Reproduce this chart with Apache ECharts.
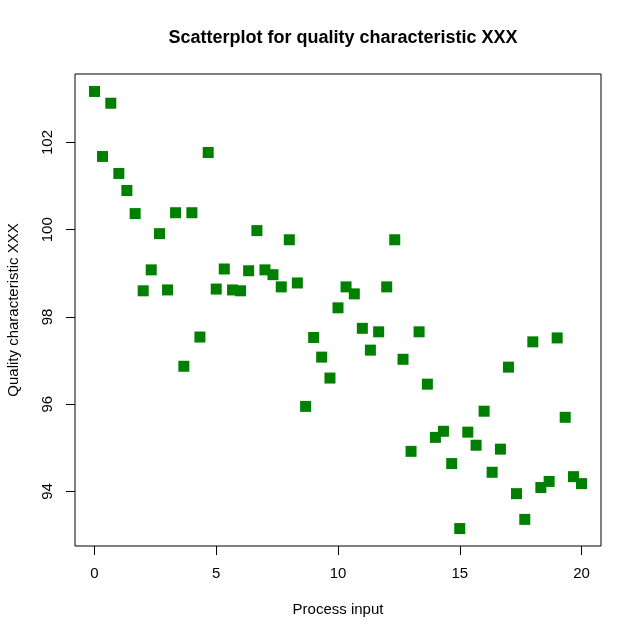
<!DOCTYPE html>
<html>
<head>
<meta charset="utf-8">
<script src="https://cdn.jsdelivr.net/npm/echarts@6/dist/echarts.min.js"></script>
<style>
	html, body { margin: 0; padding: 0; background: #fff; }
	#chart { width: 640px; height: 639px; }
</style>
</head>
<body>
<div id="chart"></div>
<script>
var processInput = [0, 0.33, 0.67, 1, 1.33, 1.67, 2, 2.33, 2.67, 3, 3.33, 3.67, 4, 4.33, 4.67,
	5, 5.33, 5.67, 6, 6.33, 6.67, 7, 7.33, 7.67, 8, 8.33, 8.67, 9, 9.33, 9.67,
	10, 10.33, 10.67, 11, 11.33, 11.67, 12, 12.33, 12.67, 13, 13.33, 13.67, 14, 14.33, 14.67,
	15, 15.33, 15.67, 16, 16.33, 16.67, 17, 17.33, 17.67, 18, 18.33, 18.67, 19, 19.33, 19.67, 20];
var quality = [103.17, 101.68, 102.90, 101.29, 100.90, 100.37, 98.60, 99.08, 99.91, 98.62, 100.39, 96.87, 100.39, 97.54, 101.77,
	98.64, 99.10, 98.62, 98.60, 99.06, 99.98, 99.08, 98.97, 98.69, 99.77, 98.78, 95.95, 97.53, 97.08, 96.60,
	98.21, 98.69, 98.53, 97.74, 97.24, 97.66, 98.69, 99.77, 97.03, 94.92, 97.66, 96.46, 95.24, 95.38, 94.64,
	93.15, 95.36, 95.06, 95.84, 94.44, 94.97, 96.85, 93.95, 93.36, 97.43, 94.09, 94.23, 97.52, 95.70, 94.34, 94.18];
var xTicks = [0, 5, 10, 15, 20];
var yTicks = [94, 96, 98, 100, 102];

var points = [];
processInput.forEach(function(x, i){
	points.push([x, quality[i]]);
});

var font = "'Liberation Sans', Arial, sans-serif";
var myChart = echarts.init(document.getElementById('chart'));
var option = {
	backgroundColor: '#fff',
	animation: false,
	title: {
		text: 'Scatterplot for quality characteristic XXX',
		left: 338,
		top: 24,
		textAlign: 'center',
		textStyle: { fontFamily: font, fontSize: 18, fontWeight: 'bold', color: '#000' }
	},
	grid: {
		left: 75,
		right: 39,
		top: 74,
		bottom: 93,
		containLabel: false,
		outerBoundsMode: 'none',
		show: true,
		borderColor: '#000',
		borderWidth: 1,
		backgroundColor: 'transparent'
	},
	xAxis: {
		type: 'value',
		min: -0.8,
		max: 20.8,
		name: 'Process input',
		nameLocation: 'middle',
		nameGap: 56,
		nameTextStyle: { fontFamily: font, fontSize: 15, color: '#000' },
		axisLine: { show: false, onZero: false },
		splitLine: { show: false },
		axisTick: { show: true, customValues: xTicks, length: 9, lineStyle: { color: '#000', width: 1 } },
		axisLabel: { customValues: xTicks, margin: 20, fontFamily: font, fontSize: 15, color: '#000' }
	},
	yAxis: {
		type: 'value',
		min: 92.75,
		max: 103.57,
		name: 'Quality characteristic XXX',
		nameLocation: 'middle',
		nameGap: 54,
		nameTextStyle: { fontFamily: font, fontSize: 15, color: '#000' },
		axisLine: { show: false, onZero: false },
		splitLine: { show: false },
		axisTick: { show: true, customValues: yTicks, length: 9, lineStyle: { color: '#000', width: 1 } },
		axisLabel: {
			customValues: yTicks,
			rotate: 90,
			align: 'center',
			verticalAlign: 'bottom',
			margin: 20,
			fontFamily: font,
			fontSize: 15,
			color: '#000'
		}
	},
	series: [{
		type: 'scatter',
		symbol: 'rect',
		symbolSize: 11,
		itemStyle: { color: '#008000', opacity: 1 },
		data: points
	}]
};
myChart.setOption(option);
</script>
</body>
</html>
